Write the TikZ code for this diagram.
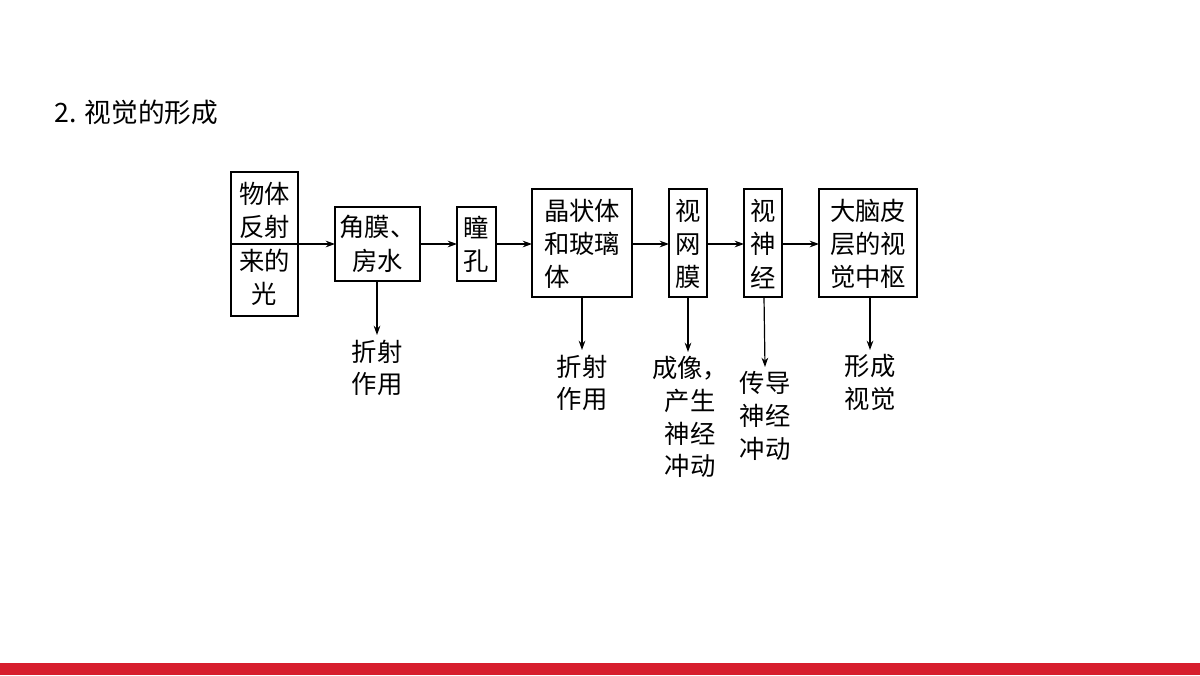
\documentclass[tikz,border=0pt]{standalone}
\usepackage{fontspec}
\setmainfont{Noto Sans CJK SC}
\usetikzlibrary{arrows.meta}
\definecolor{barred}{HTML}{D71E2D}
\begin{document}
\begin{tikzpicture}[x=0.75pt,y=-0.75pt,
  box/.style={draw,line width=0.9pt,inner sep=0pt,font=\fontsize{19}{25}\selectfont,align=center},
  lbl/.style={font=\fontsize{19}{24.5}\selectfont,align=center,anchor=north},
  arr/.style={-{Stealth[length=7pt,width=5pt]},line width=0.9pt}]
\useasboundingbox (0,0) rectangle (1200,675);
\fill[barred] (0,663) rectangle (1200,675);
\node[anchor=west,font=\fontsize{20}{24}\selectfont] (title) at (50,112) {2. 视觉的形成};
\node[box,minimum width=67pt*0.75/0.75*0.75,text width=50pt] (b1) at (264.5,244) {};
\draw[line width=0.9pt] (231,172) rectangle (298,316);
\node[box,draw=none] (t1) at (264.5,244) {物体\\反射\\来的\\光};
\coordinate (b1e) at (298,244);
\draw[line width=0.9pt] (335,207) rectangle (420,281);
\node[box,draw=none] (b2) at (377.5,244) {角膜、\\房水};
\coordinate (b2w) at (335,244); \coordinate (b2e) at (420,244); \coordinate (b2s) at (377,281);
\draw[line width=0.9pt] (457,207) rectangle (496,281);
\node[box,draw=none] (b3) at (476.5,244) {瞳\\孔};
\coordinate (b3w) at (457,244); \coordinate (b3e) at (496,244);
\draw[line width=0.9pt] (532,189) rectangle (632,297);
\node[box,draw=none] (b4) at (582,244) {晶状体\\和玻璃\\体\phantom{玻璃}};
\coordinate (b4w) at (532,244); \coordinate (b4e) at (632,244); \coordinate (b4s) at (582,297);
\draw[line width=0.9pt] (669,189) rectangle (707,297);
\node[box,draw=none] (b5) at (688,244) {视\\网\\膜};
\coordinate (b5w) at (669,244); \coordinate (b5e) at (707,244); \coordinate (b5s) at (688,297);
\draw[line width=0.9pt] (744,189) rectangle (782,297);
\node[box,draw=none] (b6) at (763,244) {视\\神\\经};
\coordinate (b6w) at (744,244); \coordinate (b6e) at (782,244); \coordinate (b6s) at (764,297);
\draw[line width=0.9pt] (819,189) rectangle (917,297);
\node[box,draw=none] (b7) at (868,244) {大脑皮\\层的视\\觉中枢};
\coordinate (b7w) at (819,244); \coordinate (b7s) at (870,297);
\draw[arr] (b1e) -- (b2w);
\draw[arr] (b2e) -- (b3w);
\draw[arr] (b3e) -- (b4w);
\draw[arr] (b4e) -- (b5w);
\draw[arr] (b5e) -- (b6w);
\draw[arr] (b6e) -- (b7w);
\node[lbl] (l2) at (377,335) {折射\\作用};
\node[lbl] (l4) at (582,350) {折射\\作用};
\node[lbl] (l5) at (690,352) {成像，\\产生\\神经\\冲动};
\node[lbl] (l6) at (765,367) {传导\\神经\\冲动};
\node[lbl] (l7) at (870,350) {形成\\视觉};
\draw[arr] (b2s) -- (l2.north);
\draw[arr] (b4s) -- (l4.north);
\draw[arr] (b5s) -- (688,352);
\draw[arr] (b6s) -- (l6.north);
\draw[arr] (b7s) -- (l7.north);
\end{tikzpicture}
\end{document}
